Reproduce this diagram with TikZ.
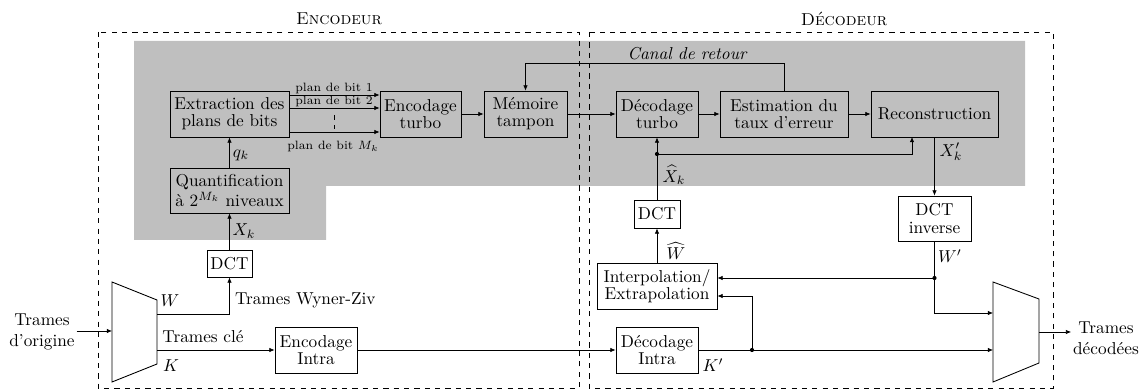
\documentclass[tikz,border=0pt]{standalone}
\usetikzlibrary{arrows.meta}
\begin{document}
\begin{tikzpicture}[x=0.58pt,y=-0.58pt,
  blk/.style 2 args={draw,line width=0.5pt,inner sep=0pt,minimum width=#1*0.58pt,minimum height=#2*0.58pt,align=center,font=\fontsize{10}{10}\selectfont},
  arr/.style={-{Latex[length=3pt,width=2.6pt]}},
  lbl/.style={inner sep=1pt,font=\fontsize{10}{12}\selectfont},
  plan/.style={inner sep=0pt,font=\scriptsize,anchor=base},
  frame/.style={draw,dashed,line width=0.4pt},
  mux/.style={draw,line width=0.5pt}]
\useasboundingbox (0,0) rectangle (1143,391);

% grey region
\fill[black!25] (134,41) -- (1025,41) -- (1025,186) -- (326,186) -- (326,240) -- (134,240) -- cycle;

% frames and titles
\draw[frame] (98,32) rectangle (579,388);
\draw[frame] (589,32) rectangle (1053,388);
\node[lbl] (tenc) at (339,19) {\textsc{Encodeur}};
\node[lbl] (tdec) at (844,19) {\textsc{Décodeur}};

% blocks
\node[blk={119}{46}] (ext) at (229.5,114) {Extraction des\\plans de bits};
\node[blk={119}{45}] (quant) at (229.5,190.5) {Quantification\\à $2^{M_k}$ niveaux};
\node[blk={45}{27}] (dcte) at (229.5,263.5) {DCT};
\node[blk={81}{46}] (enct) at (420.5,114) {Encodage\\turbo};
\node[blk={83}{46}] (mem) at (525.5,114) {Mémoire\\tampon};
\node[blk={82}{46}] (dect) at (657,114) {Décodage\\turbo};
\node[blk={128}{46}] (est) at (784,114) {Estimation du\\taux d’erreur};
\node[blk={127}{46}] (rec) at (934.5,114) {Reconstruction};
\node[blk={73}{45}] (idct) at (934.5,218.5) {DCT\\inverse};
\node[blk={46}{28}] (dctd) at (657,214) {DCT};
\node[blk={120}{46}] (interp) at (657,286) {Interpolation/\\Extrapolation};
\node[blk={82}{46}] (enci) at (316,350) {Encodage\\Intra};
\node[blk={82}{46}] (deci) at (657,350) {Décodage\\Intra};

% multiplexers
\coordinate (m1a) at (112,282); \coordinate (m1b) at (157,300);
\coordinate (m1c) at (157,364); \coordinate (m1d) at (112,382);
\draw[mux] (m1a) -- (m1b) -- (m1c) -- (m1d) -- cycle;
\coordinate (m2a) at (993,282); \coordinate (m2b) at (1039,299);
\coordinate (m2c) at (1039,363); \coordinate (m2d) at (993,382);
\draw[mux] (m2a) -- (m2b) -- (m2c) -- (m2d) -- cycle;
\coordinate (m1in) at (112,331);
\coordinate (m1w) at (157,314);
\coordinate (m1k) at (157,350);
\coordinate (m2w) at (993,313);
\coordinate (m2k) at (993,350);
\coordinate (m2out) at (1039,332);

% outer texts
\node[lbl,align=center] (orig) at (42,332) {Trames\\d’origine};
\node[lbl,align=center] (decod) at (1106,338) {Trames\\décodées};
\draw[arr] (orig.east |- m1in) -- (m1in);
\draw[arr] (m2out) -- (decod.west |- m2out);

% encoder connections
\draw[arr] (m1w) -| (dcte.south);
\draw[arr] (m1k) -- (enci.west);
\draw[arr] (dcte) -- (quant);
\draw[arr] (quant) -- (ext);
\coordinate (p1) at (0,95); \coordinate (p2) at (0,108); \coordinate (p3) at (0,132);
\draw[arr] (ext.east |- p1) -- (enct.west |- p1);
\draw[arr] (ext.east |- p2) -- (enct.west |- p2);
\draw[arr] (ext.east |- p3) -- (enct.west |- p3);
\node[plan] (pl1) at (334,92) {plan de bit 1};
\node[plan] (pl2) at (334,105) {plan de bit 2};
\node[plan] (plm) at (333,149.5) {plan de bit $M_k$};
\coordinate (vd1) at (334,115); \coordinate (vd2) at (334,129);
\draw[dashed] (vd1) -- (vd2);

\draw[arr] (enct) -- (mem);
\draw[arr] (mem) -- (dect);
\draw[arr] (dect) -- (est);
\draw[arr] (est) -- (rec);
\draw[arr] (enci) -- (deci);

% feedback channel
\coordinate (fb) at (0,63);
\draw[arr] (est.north) -- (est.north |- fb) -- (mem.north |- fb) -- (mem.north);
\node[lbl,font=\fontsize{10}{12}\selectfont\itshape,anchor=base] (canal) at (687,60) {Canal de retour};

% decoder connections
\draw[arr] (interp) -- (dctd);
\draw[arr] (dctd) -- (dect);
\coordinate (j1) at (657,154);
\coordinate (rx) at (912,137);
\draw[arr] (j1) -| (rx);
\fill (j1) circle (1.2pt);
\draw[arr] (rec.south) -- (idct.north);
\coordinate (j2) at (934.5,278);
\draw (idct.south) -- (j2);
\draw[arr] (j2) -- (interp.east |- j2);
\draw[arr] (j2) |- (m2w);
\fill (j2) circle (1.2pt);
\coordinate (j3) at (752,350);
\coordinate (ci2) at (0,296);
\draw[arr] (deci.east) -- (m2k);
\draw[arr] (j3) |- (interp.east |- ci2);
\fill (j3) circle (1.2pt);

% labels
\node[lbl] (lW) at (170,301) {$W$};
\node[lbl] (lK) at (171,366) {$K$};
\node[lbl,anchor=west] (lwz) at (233,300) {Trames Wyner-Ziv};
\node[lbl] (lcle) at (203,337) {Trames clé};
\node[lbl] (lq) at (241,155) {$q_k$};
\node[lbl] (lX) at (244,231) {$X_k$};
\node[lbl,inner sep=0pt] (lXh) at (674,175) {$\widehat{X}_k$};
\node[lbl,inner sep=0pt] (lWh) at (676,251) {$\widehat{W}$};
\node[lbl] (lXp) at (951,152) {$X'_k$};
\node[lbl] (lWp) at (950,256) {$W'$};
\node[lbl] (lKp) at (713,365) {$K'$};
\end{tikzpicture}
\end{document}
